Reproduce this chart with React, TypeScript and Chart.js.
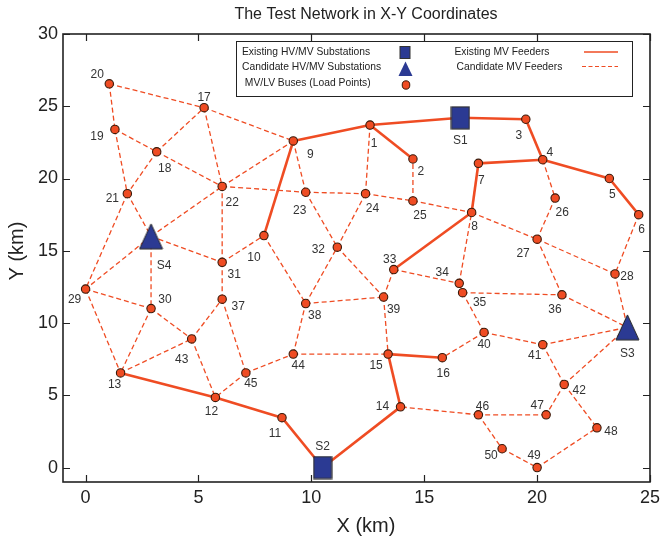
import React, { useEffect, useRef } from "react";
import { Chart, registerables } from "chart.js";

Chart.register(...registerables);

// ---------- DATA ----------
const nodeIds = [
  "1", "2", "3", "4", "5", "6", "7", "8", "9", "10",
  "11", "12", "13", "14", "15", "16", "17", "18", "19", "20",
  "21", "22", "23", "24", "25", "26", "27", "28", "29", "30",
  "31", "32", "33", "34", "35", "36", "37", "38", "39", "40",
  "41", "42", "43", "44", "45", "46", "47", "48", "49", "50",
];
const nodeX = [
  12.6, 14.5, 19.5, 20.25, 23.2, 24.5, 17.4, 17.1, 9.2, 7.9,
  8.7, 5.75, 1.55, 13.95, 13.4, 15.8, 5.25, 3.15, 1.3, 1.05,
  1.85, 6.05, 9.75, 12.4, 14.5, 20.8, 20.0, 23.45, 0.0, 2.9,
  6.05, 11.15, 13.65, 16.55, 16.7, 21.1, 6.05, 9.75, 13.2, 17.65,
  20.25, 21.2, 4.7, 9.2, 7.1, 17.4, 20.4, 22.65, 20.0, 18.45,
];
const nodeY = [
  23.7, 21.35, 24.1, 21.3, 20.0, 17.5, 21.05, 17.65, 22.6, 16.05,
  3.45, 4.85, 6.55, 4.2, 7.85, 7.6, 24.9, 21.85, 23.4, 26.55,
  18.95, 19.45, 19.05, 18.95, 18.45, 18.65, 15.8, 13.4, 12.35, 11.0,
  14.2, 15.25, 13.7, 12.75, 12.1, 11.95, 11.65, 11.35, 11.8, 9.35,
  8.5, 5.75, 8.9, 7.85, 6.55, 3.65, 3.65, 2.75, 0.0, 1.3,
];

const existingSubIds = ["S1", "S2"];
const existingSubX = [16.6, 10.5];
const existingSubY = [24.2, 0.0];

const candidateSubIds = ["S3", "S4"];
const candidateSubX = [24.0, 2.9];
const candidateSubY = [9.7, 16.0];

const existingFeeders: [string, string][] = [
  ["9", "1"], ["1", "S1"], ["S1", "3"], ["3", "4"], ["1", "2"], ["4", "7"],
  ["7", "8"], ["8", "33"], ["4", "5"], ["5", "6"], ["9", "10"], ["13", "12"],
  ["12", "11"], ["11", "S2"], ["S2", "14"], ["14", "15"], ["15", "16"],
];

const candidateFeeders: [string, string][] = [
  ["20", "17"], ["20", "19"], ["19", "18"], ["19", "21"], ["18", "17"], ["18", "21"],
  ["18", "22"], ["17", "22"], ["17", "9"], ["22", "9"], ["22", "23"], ["23", "9"],
  ["23", "24"], ["23", "32"], ["24", "1"], ["24", "25"], ["24", "32"], ["25", "2"],
  ["25", "8"], ["21", "S4"], ["21", "29"], ["S4", "22"], ["S4", "31"], ["S4", "30"],
  ["S4", "29"], ["29", "30"], ["29", "13"], ["30", "13"], ["30", "43"], ["13", "43"],
  ["43", "37"], ["43", "12"], ["37", "31"], ["37", "45"], ["31", "22"], ["31", "10"],
  ["10", "38"], ["45", "12"], ["45", "44"], ["44", "38"], ["44", "15"], ["38", "32"],
  ["38", "39"], ["32", "39"], ["39", "33"], ["39", "15"], ["33", "34"], ["34", "8"],
  ["34", "35"], ["35", "36"], ["35", "40"], ["40", "16"], ["40", "41"], ["41", "S3"],
  ["41", "42"], ["42", "S3"], ["42", "47"], ["42", "48"], ["47", "46"], ["46", "14"],
  ["46", "50"], ["50", "49"], ["49", "48"], ["4", "26"], ["26", "27"], ["8", "27"],
  ["27", "28"], ["27", "36"], ["6", "28"], ["28", "S3"], ["36", "S3"],
];

const xTicks = [0, 5, 10, 15, 20, 25];
const yTicks = [0, 5, 10, 15, 20, 25, 30];

const titleText = "The Test Network in X-Y Coordinates";
const xTitle = "X (km)";
const yTitle = "Y (km)";
const legendLabels = [
  "Existing HV/MV Substations",
  "Candidate HV/MV Substations",
  " MV/LV Buses (Load Points)",
  "Existing MV Feeders",
  "Candidate MV Feeders",
];

// ---------- STYLE ----------
const ORANGE = "#EF4C23";
const BLUE = "#2B3A93";
const DARK = "#222222";
const FONT = '"Liberation Sans", Arial, Helvetica, sans-serif';

// label offsets in pixels (text centre relative to marker)
const labelOffsets: Record<string, [number, number]> = {
  "1": [4, 19], "2": [8, 13], "3": [-7, 16], "4": [7, -7], "5": [3, 16],
  "6": [3, 15], "7": [3, 17], "8": [3, 14], "9": [17, 14], "10": [-10, 22],
  "11": [-7, 16], "12": [-4, 14], "13": [-6, 12], "14": [-18, 0], "15": [-12, 12],
  "16": [1, 16], "17": [0, -10], "18": [8, 17], "19": [-18, 7], "20": [-12, -9],
  "21": [-15, 5], "22": [10, 16], "23": [-6, 18], "24": [7, 15], "25": [7, 15],
  "26": [7, 15], "27": [-14, 14], "28": [12, 3], "29": [-11, 11], "30": [14, -9],
  "31": [12, 12], "32": [-19, 3], "33": [-4, -10], "34": [-17, -11], "35": [17, 10],
  "36": [-7, 15], "37": [16, 8], "38": [9, 12], "39": [10, 13], "40": [0, 12],
  "41": [-8, 11], "42": [15, 6], "43": [-10, 21], "44": [5, 12], "45": [5, 11],
  "46": [4, -8], "47": [-9, -9], "48": [14, 4], "49": [-3, -12], "50": [-11, 7],
  S1: [0, 23], S2: [0, -21], S3: [0, 26], S4: [13, 29],
};

function coordOf(id: string): { x: number; y: number } {
  let i = nodeIds.indexOf(id);
  if (i >= 0) return { x: nodeX[i], y: nodeY[i] };
  i = existingSubIds.indexOf(id);
  if (i >= 0) return { x: existingSubX[i], y: existingSubY[i] };
  i = candidateSubIds.indexOf(id);
  return { x: candidateSubX[i], y: candidateSubY[i] };
}

function makeRect(w: number, h: number): HTMLCanvasElement {
  const c = document.createElement("canvas");
  c.width = w + 2;
  c.height = h + 2;
  const g = c.getContext("2d")!;
  g.fillStyle = BLUE;
  g.fillRect(1, 1, w, h);
  g.strokeStyle = "#333";
  g.lineWidth = 1.2;
  g.strokeRect(1, 1, w, h);
  return c;
}

function makeTri(w: number, h: number): HTMLCanvasElement {
  const c = document.createElement("canvas");
  c.width = w + 2;
  c.height = h + 2;
  const g = c.getContext("2d")!;
  g.beginPath();
  g.moveTo(1 + w / 2, 1);
  g.lineTo(1 + w, 1 + h);
  g.lineTo(1, 1 + h);
  g.closePath();
  g.fillStyle = BLUE;
  g.fill();
  g.strokeStyle = "#222";
  g.lineWidth = 1;
  g.stroke();
  return c;
}

const overlayPlugin = {
  id: "overlay",
  afterDatasetsDraw(chart: any) {
    const { ctx, chartArea } = chart;
    const { left, right, top, bottom } = chartArea;
    const xs = chart.scales.x;
    const ys = chart.scales.y;
    ctx.save();

    // node labels
    ctx.font = `12px ${FONT}`;
    ctx.fillStyle = "#333";
    ctx.textAlign = "center";
    ctx.textBaseline = "middle";
    const allIds = [...nodeIds, ...existingSubIds, ...candidateSubIds];
    allIds.forEach((id) => {
      const p = coordOf(id);
      const off = labelOffsets[id] || [0, 0];
      ctx.fillText(id, xs.getPixelForValue(p.x) + off[0], ys.getPixelForValue(p.y) + off[1]);
    });

    // frame and inward ticks
    ctx.strokeStyle = DARK;
    ctx.lineWidth = 1.6;
    ctx.strokeRect(left, top, right - left, bottom - top);
    ctx.lineWidth = 1.2;
    const tl = 7;
    ctx.beginPath();
    xTicks.forEach((v) => {
      const px = Math.round(xs.getPixelForValue(v)) + 0.5;
      ctx.moveTo(px, bottom);
      ctx.lineTo(px, bottom - tl);
      ctx.moveTo(px, top);
      ctx.lineTo(px, top + tl);
    });
    yTicks.forEach((v) => {
      const py = Math.round(ys.getPixelForValue(v)) + 0.5;
      ctx.moveTo(left, py);
      ctx.lineTo(left + tl, py);
      ctx.moveTo(right, py);
      ctx.lineTo(right - tl, py);
    });
    ctx.stroke();

    // title and axis titles
    ctx.fillStyle = DARK;
    ctx.textAlign = "center";
    ctx.textBaseline = "middle";
    ctx.font = `16px ${FONT}`;
    ctx.fillText(titleText, 366, 15);
    ctx.font = `20px ${FONT}`;
    ctx.fillText(xTitle, 366, 526);
    ctx.save();
    ctx.translate(17, 251);
    ctx.rotate(-Math.PI / 2);
    ctx.fillText(yTitle, 0, 0);
    ctx.restore();

    // legend
    const lx = 236, ly = 41, lw = 396, lh = 55;
    ctx.fillStyle = "#fff";
    ctx.fillRect(lx, ly, lw, lh);
    ctx.strokeStyle = DARK;
    ctx.lineWidth = 1;
    ctx.strokeRect(lx + 0.5, ly + 0.5, lw, lh);
    ctx.fillStyle = DARK;
    ctx.font = `10.3px ${FONT}`;
    ctx.textAlign = "left";
    ctx.textBaseline = "middle";
    ctx.fillText(legendLabels[0], 242, 52.5);
    ctx.fillText(legendLabels[1], 242, 67);
    ctx.fillText(legendLabels[2], 242, 83.5);
    ctx.fillText(legendLabels[3], 454.5, 52.5);
    ctx.fillText(legendLabels[4], 456.5, 67);
    // square
    ctx.fillStyle = BLUE;
    ctx.fillRect(400, 46.5, 10, 12);
    ctx.strokeStyle = "#333";
    ctx.strokeRect(400, 46.5, 10, 12);
    // triangle
    ctx.beginPath();
    ctx.moveTo(405.5, 61.5);
    ctx.lineTo(412.5, 76);
    ctx.lineTo(398.5, 76);
    ctx.closePath();
    ctx.fillStyle = BLUE;
    ctx.fill();
    // circle
    ctx.beginPath();
    ctx.ellipse(406, 85, 3.8, 4.2, 0, 0, Math.PI * 2);
    ctx.fillStyle = ORANGE;
    ctx.fill();
    ctx.strokeStyle = "#3a1a0a";
    ctx.stroke();
    // line samples
    ctx.strokeStyle = ORANGE;
    ctx.lineWidth = 1.6;
    ctx.beginPath();
    ctx.moveTo(584, 52);
    ctx.lineTo(618, 52);
    ctx.stroke();
    ctx.lineWidth = 1.2;
    ctx.setLineDash([4, 2.5]);
    ctx.beginPath();
    ctx.moveTo(582, 66.5);
    ctx.lineTo(618, 66.5);
    ctx.stroke();
    ctx.setLineDash([]);

    ctx.restore();
  },
};

export default function App() {
  const ref = useRef<HTMLCanvasElement | null>(null);

  useEffect(() => {
    document.body.style.margin = "0";
    const canvas = ref.current;
    if (!canvas) return;

    const edgeDataset = (e: [string, string], existing: boolean) => ({
      type: "scatter" as const,
      data: [coordOf(e[0]), coordOf(e[1])],
      showLine: true,
      borderColor: ORANGE,
      borderWidth: existing ? 2.6 : 1.3,
      borderDash: existing ? [] : [5, 3],
      pointRadius: 0,
      pointHoverRadius: 0,
      fill: false,
      order: 2,
      clip: false as const,
    });

    const datasets: any[] = [
      ...existingFeeders.map((e) => edgeDataset(e, true)),
      ...candidateFeeders.map((e) => edgeDataset(e, false)),
      {
        type: "scatter",
        data: nodeIds.map((id, i) => ({ x: nodeX[i], y: nodeY[i] })),
        pointStyle: "circle",
        pointRadius: 4.2,
        pointBackgroundColor: ORANGE,
        pointBorderColor: "#3a1a0a",
        pointBorderWidth: 1.1,
        order: 0,
        clip: false,
      },
      {
        type: "scatter",
        data: existingSubIds.map((id, i) => ({ x: existingSubX[i], y: existingSubY[i] })),
        pointStyle: makeRect(18, 22),
        pointRadius: 10,
        order: 0,
        clip: false,
      },
      {
        type: "scatter",
        data: candidateSubIds.map((id, i) => ({ x: candidateSubX[i], y: candidateSubY[i] })),
        pointStyle: makeTri(23, 25),
        pointRadius: 12,
        order: 0,
        clip: false,
      },
    ];

    const chart = new Chart(canvas, {
      type: "scatter",
      data: { datasets },
      plugins: [overlayPlugin],
      options: {
        responsive: false,
        animation: false,
        events: [],
        layout: { padding: { top: 34, right: 10, left: 0, bottom: 0 } },
        plugins: {
          legend: { display: false },
          title: { display: false },
          tooltip: { enabled: false },
        },
        scales: {
          x: {
            type: "linear",
            min: -1,
            max: 25,
            afterBuildTicks: (s: any) => {
              s.ticks = xTicks.map((v) => ({ value: v }));
            },
            afterFit: (s: any) => {
              s.height = 59;
            },
            grid: { display: false, drawTicks: false },
            border: { display: false },
            ticks: {
              color: DARK,
              font: { family: FONT, size: 18 },
              padding: 5,
              maxRotation: 0,
              includeBounds: false,
            },
          },
          y: {
            type: "linear",
            min: -1,
            max: 30,
            afterBuildTicks: (s: any) => {
              s.ticks = yTicks.map((v) => ({ value: v }));
            },
            afterFit: (s: any) => {
              s.width = 63;
            },
            grid: { display: false, drawTicks: false },
            border: { display: false },
            ticks: {
              color: DARK,
              font: { family: FONT, size: 18 },
              padding: 5,
              includeBounds: false,
            },
          },
        },
      },
    });

    return () => chart.destroy();
  }, []);

  return <canvas ref={ref} width={665} height={541} style={{ display: "block" }} />;
}
